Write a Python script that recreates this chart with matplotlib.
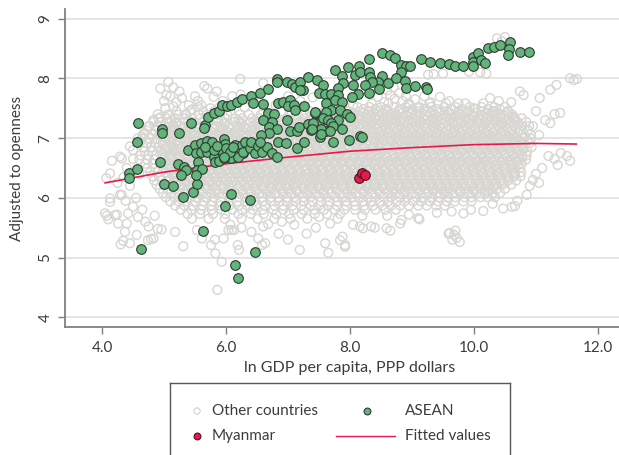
import matplotlib
matplotlib.use("Agg")
import matplotlib.pyplot as plt
from matplotlib.lines import Line2D

plt.rcParams['font.family'] = ['Lato', 'DejaVu Sans']

# ---------------- data ----------------
# Fitted values
fit_x = [4.05, 5.0, 6.0, 7.0, 8.0, 9.0, 10.0, 11.0, 11.65]
fit_y = [6.25, 6.43, 6.57, 6.68, 6.78, 6.84, 6.89, 6.91, 6.90]

# Myanmar
mmr_x = [8.15, 8.20, 8.25]
mmr_y = [6.33, 6.41, 6.38]

# ASEAN
asean_x = [4.58, 4.57, 4.43, 4.43, 4.56, 4.96, 4.96, 5.24, 5.44, 5.66, 5.64, 4.94, 5.00, 5.15, 5.31,
           5.46, 5.53, 5.22, 5.33, 5.35, 5.27, 5.38, 6.08, 5.99, 6.39, 5.63, 4.63, 6.47, 6.15, 6.19,
           5.71, 5.80, 5.88, 5.93, 6.01, 6.08, 6.17, 6.25, 6.41, 6.55, 6.67, 6.44, 6.60,
           5.50, 5.60, 5.69, 5.77, 5.51, 5.60, 5.69, 5.80, 5.82, 5.89, 5.92, 5.97, 5.99, 6.04, 6.09,
           6.15, 6.25, 6.27, 6.08, 6.20, 5.96, 5.55, 5.53, 5.61, 5.52,
           5.66, 5.80, 5.85, 6.00, 6.06, 6.12, 6.28, 6.31, 6.39, 6.41, 6.47, 6.52, 6.58, 6.66, 6.74,
           6.82, 5.96,
           6.83, 6.83, 6.98, 7.06, 7.11, 7.19, 7.24, 7.33, 7.46, 7.56, 7.50, 7.60, 7.62,
           6.84, 6.92, 7.03, 7.00, 7.09, 7.11, 6.67, 6.77, 6.60, 6.98, 6.74, 6.70, 6.82, 7.03, 7.14,
           7.17, 7.33, 7.37, 7.44, 7.44, 6.70, 6.84, 6.97, 7.14, 7.25, 6.56, 6.55, 7.50, 7.52, 7.61,
           7.19,
           8.31, 8.51, 8.65, 8.72, 8.82, 8.90, 8.97, 8.83, 9.14, 9.29, 9.45, 8.15, 7.96, 7.76, 7.87,
           8.08, 8.16, 8.30, 8.32, 8.51, 8.45, 8.35, 8.24, 8.30, 8.13, 8.05, 7.89, 7.81, 8.47, 8.62,
           8.74, 8.89, 8.90, 9.05, 9.23, 9.25,
           7.70, 7.81, 7.76, 7.87, 7.70, 8.03, 7.25, 7.44, 7.62, 7.57, 7.84, 7.95, 8.00, 7.81, 7.65,
           7.70, 7.41, 7.54, 7.73, 7.68, 7.87, 7.38, 7.54, 7.73, 7.99, 8.16, 8.19,
           9.59, 9.69, 9.82, 9.98, 9.99, 9.98, 10.07, 10.12, 10.18, 10.23, 10.32, 10.42, 10.58,
           10.57, 10.55, 10.75, 10.89]
asean_y = [7.25, 6.93, 6.41, 6.33, 6.48, 7.16, 7.08, 7.09, 7.25, 7.22, 7.17, 6.60, 6.23, 6.20, 6.02,
           6.09, 6.23, 6.57, 6.51, 6.47, 6.39, 6.80, 6.06, 5.86, 5.96, 5.44, 5.15, 5.09, 4.87, 4.66,
           7.36, 7.42, 7.46, 7.55, 7.54, 7.55, 7.61, 7.65, 7.71, 7.76, 7.82, 7.59, 7.57,
           6.88, 6.91, 6.95, 6.94, 6.75, 6.76, 6.77, 6.69, 6.60, 6.62, 6.80, 6.98, 6.90, 6.81, 6.79,
           6.88, 6.88, 6.75, 6.66, 6.69, 6.66, 6.60, 6.47, 6.48, 6.39,
           6.85, 6.80, 6.87, 6.83, 6.77, 6.85, 6.77, 6.94, 6.83, 6.94, 6.75, 6.87, 6.77, 6.85, 6.75,
           6.69, 6.69,
           7.99, 7.93, 7.94, 7.91, 7.85, 7.94, 7.81, 8.02, 7.98, 7.89, 7.75, 7.74, 7.58,
           7.58, 7.61, 7.64, 7.53, 7.55, 7.47, 7.42, 7.40, 7.30, 7.31, 7.27, 7.19, 7.16, 7.11, 7.11,
           7.19, 7.24, 7.14, 7.27, 7.42, 7.08, 6.94, 6.91, 6.83, 6.94, 7.05, 6.94, 7.26, 7.02, 7.11,
           7.81,
           8.32, 8.42, 8.39, 8.34, 8.22, 8.20, 8.21, 8.11, 8.32, 8.28, 8.26, 8.21, 8.19, 8.14, 8.04,
           8.06, 8.10, 8.10, 8.03, 8.04, 7.94, 7.93, 7.89, 7.75, 7.74, 7.89, 7.92, 7.83, 7.82, 7.92,
           8.00, 7.96, 7.83, 7.87, 7.86, 7.82,
           7.74, 7.72, 7.64, 7.61, 7.47, 7.69, 7.53, 7.43, 7.44, 7.33, 7.47, 7.40, 7.35, 7.31, 7.30,
           7.26, 7.25, 7.16, 7.20, 7.12, 7.15, 7.15, 7.07, 6.94, 6.97, 7.04, 7.02,
           8.24, 8.20, 8.20, 8.35, 8.28, 8.21, 8.43, 8.31, 8.26, 8.50, 8.53, 8.56, 8.60,
           8.49, 8.39, 8.44, 8.44]

# Other countries: scattered observations outside the dense core (x, y)
other_sparse_x = [4.05, 4.08, 4.13, 4.10, 4.24, 4.29, 4.26, 4.40, 4.42, 4.50, 4.58, 4.34, 4.30, 4.45,
                  4.56, 4.74, 4.79, 4.83, 4.75, 4.90, 4.96, 5.18, 5.31, 5.53, 5.61, 5.82, 5.76, 5.83,
                  5.93, 5.86, 5.96, 6.04, 6.09, 6.13, 6.19, 6.21, 6.07, 6.25, 6.41, 6.52, 6.60, 6.68,
                  6.58, 6.63, 4.37, 4.21, 4.16, 4.32, 4.13, 4.07, 4.32, 4.13, 4.29, 4.45, 4.50, 4.65,
                  4.67, 4.83, 5.02, 5.15, 5.29, 5.07, 4.94, 5.04, 5.15, 5.65, 5.70, 6.23, 6.24, 5.80,
                  6.60, 4.40, 4.45, 4.55, 4.60, 4.35, 4.25, 4.50, 4.38, 4.65, 4.70, 4.85, 4.58, 4.75,
                  4.90, 5.20, 5.40, 5.55, 5.95, 6.10, 6.40, 6.55, 6.80, 7.00, 7.20, 7.40, 7.10, 7.35,
                  7.60, 7.85, 8.05, 8.30, 8.45, 8.55, 8.65, 8.72, 8.85, 8.95, 9.10, 9.26, 9.35, 9.50,
                  9.92, 10.10, 10.20, 10.37, 10.50, 10.45, 9.45, 9.60, 9.75, 10.26, 10.40, 10.74,
                  10.80, 10.60, 11.06, 11.23, 11.33, 11.55, 11.61, 11.66, 11.39, 11.30, 11.23, 11.15,
                  11.00, 10.95, 11.05, 11.20, 11.30, 11.40, 11.50, 11.55, 11.35, 11.10, 11.00, 10.95,
                  10.90, 11.05, 10.85, 10.70, 10.47, 10.61, 10.66, 10.30, 9.83, 9.64, 9.61, 9.68,
                  9.72, 9.65, 9.77, 9.59, 9.70, 9.12, 9.10, 8.81, 8.83, 8.59, 8.65, 8.34, 8.40, 8.21,
                  8.16, 8.05, 7.84, 7.92, 7.92, 7.88, 7.60, 7.65, 7.68, 7.19, 7.30, 7.45, 7.10, 6.90,
                  6.85, 7.00, 9.40, 9.95, 10.15, 8.95, 8.60, 8.20, 7.80, 7.50, 10.00, 10.30, 10.55,
                  10.65, 8.60, 8.70, 8.80, 8.90, 9.05, 9.20, 9.30, 5.10, 5.20, 5.25, 5.35, 5.00, 4.95,
                  5.45, 5.50, 5.60, 5.75, 5.85, 5.90]
other_sparse_y = [5.74, 5.70, 5.93, 5.64, 5.72, 6.05, 5.57, 5.57, 5.74, 5.85, 5.68, 5.28, 5.22, 5.24,
                  5.38, 5.29, 5.31, 5.32, 5.52, 5.48, 5.47, 5.43, 5.19, 5.46, 5.32, 5.30, 5.21, 5.07,
                  4.93, 4.46, 5.32, 5.46, 5.46, 5.46, 5.21, 5.13, 5.55, 5.50, 5.43, 5.32, 5.52, 5.56,
                  5.21, 5.24, 5.43, 5.71, 6.62, 6.66, 6.41, 6.33, 6.05, 5.99, 6.69, 6.86, 6.80, 7.02,
                  7.08, 7.30, 7.50, 7.53, 7.67, 7.94, 7.83, 7.72, 7.85, 7.87, 7.83, 7.99, 7.73, 7.69,
                  7.92, 6.50, 6.20, 6.00, 6.40, 6.35, 6.25, 6.65, 5.95, 5.80, 5.60, 5.70, 7.00, 7.20,
                  7.40, 7.60, 7.55, 7.62, 7.62, 7.70, 7.65, 7.60, 7.55, 7.70, 7.62, 7.68, 7.50, 7.45,
                  7.48, 7.52, 7.55, 7.45, 7.69, 7.60, 7.72, 7.66, 7.62, 7.55, 7.50, 8.06, 8.07, 8.08,
                  8.11, 8.10, 8.08, 8.67, 8.69, 8.62, 7.69, 7.62, 7.58, 7.67, 7.62, 7.78,
                  7.72, 7.60, 7.67, 7.81, 7.89, 8.00, 7.97, 7.99, 7.42, 7.40, 7.25, 7.30,
                  7.45, 7.20, 7.05, 6.70, 6.65, 6.75, 6.70, 6.62, 6.55, 6.50, 6.40, 6.30,
                  6.20, 6.25, 6.05, 5.95, 5.82, 5.85, 5.86, 5.90, 5.74, 5.77, 5.41, 5.38,
                  5.33, 5.30, 5.26, 5.40, 5.45, 5.64, 5.66, 5.57, 5.63, 5.49, 5.45, 5.52, 5.50, 5.49,
                  5.52, 5.55, 5.29, 5.18, 5.21, 5.35, 5.24, 5.08, 5.57, 5.13, 5.40, 5.50, 5.55, 5.60,
                  5.40, 5.30, 5.75, 5.80, 5.78, 5.72, 5.70, 5.70, 5.65, 5.68, 7.50, 7.45, 7.45,
                  7.35, 7.80, 7.85, 7.75, 7.70, 7.65, 7.70, 7.60, 7.70, 7.45, 7.78, 7.40, 7.62, 7.35,
                  7.48, 7.70, 7.55, 7.50, 7.78, 7.45]

# Other countries: dense core, read row by row (row level -> x positions)
core_row_y = [7.58, 7.52, 7.45, 7.39, 7.33, 7.27, 7.20, 7.13, 7.06, 6.99, 6.92, 6.85, 6.78, 6.71,
              6.64, 6.57, 6.50, 6.43, 6.36, 6.29, 6.22, 6.15, 6.08, 6.01, 5.94, 5.87, 5.80, 5.73,
              5.65]
core_row_x = [
    [8.35, 8.62, 8.95, 9.28, 9.55, 9.86, 10.15],
    [5.55, 5.90, 6.30, 8.12, 8.31, 8.50, 8.71, 8.90, 9.12, 9.31, 9.52, 9.70, 9.93, 10.12, 10.33,
     10.50],
    [5.42, 5.63, 5.81, 6.07, 6.60, 6.89, 7.62, 7.83, 7.98, 8.16, 8.30, 8.47, 8.61, 8.79, 8.93,
     9.11, 9.25, 9.43, 9.57, 9.75, 9.91, 10.14, 10.33, 10.55],
    [5.06, 5.23, 5.36, 5.57, 5.69, 5.90, 6.02, 6.22, 6.37, 6.56, 6.72, 7.05, 7.28, 7.47, 7.66,
     7.82, 7.97, 8.13, 8.28, 8.44, 8.59, 8.75, 8.90, 9.06, 9.21, 9.37, 9.51, 9.63, 9.78, 9.97,
     10.10, 10.29, 10.43, 10.62],
    [4.91, 5.05, 5.18, 5.32, 5.45, 5.59, 5.72, 5.87, 5.98, 6.15, 6.26, 6.42, 6.54, 6.69, 6.82,
     6.98, 7.11, 7.27, 7.42, 7.56, 7.71, 7.85, 8.00, 8.13, 8.27, 8.40, 8.53, 8.68, 8.85, 9.00,
     9.18, 9.32, 9.49, 9.62, 9.78, 9.91, 10.07, 10.20, 10.36, 10.48, 10.65, 10.77],
    [4.83, 4.94, 5.08, 5.20, 5.34, 5.46, 5.61, 5.71, 5.87, 5.97, 6.13, 6.23, 6.39, 6.50, 6.64,
     6.76, 6.91, 7.02, 7.18, 7.28, 7.44, 7.55, 7.69, 7.81, 7.96, 8.07, 8.23, 8.33, 8.49, 8.60,
     8.74, 8.86, 9.01, 9.12, 9.28, 9.38, 9.54, 9.65, 9.79, 9.91, 10.06, 10.17, 10.33, 10.43,
     10.59, 10.70, 10.84],
    [4.77, 4.89, 5.01, 5.15, 5.26, 5.41, 5.52, 5.67, 5.78, 5.92, 6.04, 6.19, 6.29, 6.45, 6.56,
     6.71, 6.82, 6.97, 7.08, 7.23, 7.35, 7.49, 7.60, 7.76, 7.87, 8.02, 8.13, 8.28, 8.40, 8.55,
     8.66, 8.81, 8.92, 9.07, 9.19, 9.34, 9.45, 9.60, 9.71, 9.86, 9.97, 10.13, 10.24, 10.39,
     10.50, 10.65, 10.78, 10.89],
    [4.72, 4.85, 4.96, 5.11, 5.22, 5.37, 5.48, 5.63, 5.74, 5.89, 6.00, 6.16, 6.26, 6.41, 6.53,
     6.67, 6.79, 6.93, 7.05, 7.19, 7.31, 7.46, 7.57, 7.72, 7.83, 7.98, 8.10, 8.24, 8.36, 8.51,
     8.62, 8.77, 8.88, 9.03, 9.15, 9.29, 9.41, 9.56, 9.67, 9.82, 9.94, 10.08, 10.20, 10.35,
     10.46, 10.61, 10.73, 10.87],
    [4.67, 4.81, 4.92, 5.07, 5.17, 5.32, 5.43, 5.58, 5.69, 5.84, 5.94, 6.10, 6.20, 6.35, 6.46,
     6.61, 6.72, 6.87, 6.98, 7.13, 7.24, 7.39, 7.50, 7.65, 7.76, 7.91, 8.02, 8.17, 8.28, 8.43,
     8.54, 8.69, 8.80, 8.95, 9.06, 9.21, 9.32, 9.47, 9.58, 9.73, 9.84, 9.99, 10.10, 10.25,
     10.36, 10.51, 10.62, 10.77, 10.91],
    [4.64, 4.77, 4.89, 5.03, 5.14, 5.28, 5.40, 5.54, 5.66, 5.79, 5.91, 6.05, 6.17, 6.31, 6.43,
     6.56, 6.68, 6.82, 6.94, 7.08, 7.20, 7.33, 7.45, 7.59, 7.71, 7.85, 7.97, 8.10, 8.22, 8.36,
     8.48, 8.62, 8.74, 8.87, 8.99, 9.13, 9.25, 9.39, 9.51, 9.64, 9.76, 9.90, 10.02, 10.16,
     10.28, 10.41, 10.53, 10.67, 10.80, 10.92],
    [4.61, 4.72, 4.86, 4.98, 5.11, 5.24, 5.35, 5.49, 5.61, 5.74, 5.87, 5.98, 6.12, 6.24, 6.37,
     6.50, 6.61, 6.75, 6.87, 7.00, 7.13, 7.24, 7.38, 7.50, 7.63, 7.76, 7.87, 8.01, 8.13, 8.26,
     8.39, 8.50, 8.64, 8.76, 8.89, 9.02, 9.13, 9.27, 9.39, 9.52, 9.65, 9.76, 9.90, 10.02,
     10.15, 10.28, 10.39, 10.53, 10.65, 10.78, 10.90],
    [4.66, 4.79, 4.91, 5.05, 5.16, 5.30, 5.42, 5.56, 5.67, 5.81, 5.93, 6.07, 6.18, 6.32, 6.44,
     6.58, 6.69, 6.83, 6.95, 7.09, 7.20, 7.34, 7.46, 7.60, 7.71, 7.85, 7.97, 8.11, 8.22, 8.36,
     8.48, 8.62, 8.73, 8.87, 8.99, 9.13, 9.24, 9.38, 9.50, 9.64, 9.75, 9.89, 10.01, 10.15,
     10.26, 10.40, 10.52, 10.66, 10.79, 10.93],
    [4.69, 4.81, 4.95, 5.08, 5.20, 5.33, 5.47, 5.59, 5.72, 5.85, 5.97, 6.11, 6.23, 6.36, 6.49,
     6.61, 6.75, 6.87, 7.00, 7.13, 7.25, 7.39, 7.51, 7.64, 7.77, 7.89, 8.03, 8.15, 8.28, 8.41,
     8.53, 8.67, 8.79, 8.92, 9.05, 9.17, 9.31, 9.43, 9.56, 9.69, 9.81, 9.95, 10.07, 10.20,
     10.33, 10.45, 10.59, 10.71, 10.86],
    [4.62, 4.75, 4.87, 5.01, 5.13, 5.26, 5.39, 5.51, 5.65, 5.77, 5.90, 6.03, 6.15, 6.29, 6.41,
     6.54, 6.67, 6.79, 6.93, 7.05, 7.18, 7.31, 7.43, 7.57, 7.69, 7.82, 7.95, 8.07, 8.21, 8.33,
     8.46, 8.59, 8.71, 8.85, 8.97, 9.10, 9.23, 9.35, 9.49, 9.61, 9.74, 9.87, 9.99, 10.13,
     10.25, 10.38, 10.51, 10.63, 10.77, 10.85],
    [4.60, 4.73, 4.84, 4.98, 5.10, 5.23, 5.36, 5.48, 5.62, 5.74, 5.86, 6.00, 6.12, 6.25, 6.38,
     6.50, 6.64, 6.76, 6.88, 7.02, 7.14, 7.27, 7.40, 7.52, 7.66, 7.78, 7.90, 8.04, 8.16, 8.29,
     8.42, 8.54, 8.68, 8.80, 8.92, 9.06, 9.18, 9.31, 9.44, 9.56, 9.70, 9.82, 9.94, 10.08,
     10.20, 10.33, 10.46, 10.58, 10.72, 10.84],
    [4.70, 4.82, 4.94, 5.07, 5.19, 5.32, 5.45, 5.57, 5.70, 5.83, 5.95, 6.08, 6.21, 6.33, 6.46,
     6.59, 6.71, 6.84, 6.97, 7.09, 7.22, 7.35, 7.47, 7.60, 7.73, 7.85, 7.98, 8.11, 8.23, 8.36,
     8.49, 8.61, 8.74, 8.87, 8.99, 9.12, 9.25, 9.37, 9.50, 9.63, 9.75, 9.88, 10.01, 10.13,
     10.26, 10.39, 10.51, 10.64, 10.77],
    [4.73, 4.86, 4.99, 5.11, 5.25, 5.37, 5.50, 5.63, 5.76, 5.88, 6.02, 6.14, 6.27, 6.40, 6.53,
     6.65, 6.79, 6.91, 7.04, 7.17, 7.30, 7.42, 7.56, 7.68, 7.81, 7.94, 8.07, 8.19, 8.33, 8.45,
     8.58, 8.71, 8.84, 8.96, 9.10, 9.22, 9.35, 9.48, 9.61, 9.73, 9.87, 9.99, 10.12, 10.25,
     10.38, 10.50, 10.63, 10.74],
    [4.78, 4.90, 5.03, 5.16, 5.28, 5.42, 5.54, 5.67, 5.80, 5.92, 6.06, 6.18, 6.31, 6.44, 6.56,
     6.70, 6.82, 6.95, 7.08, 7.20, 7.34, 7.46, 7.59, 7.72, 7.84, 7.98, 8.10, 8.23, 8.36, 8.48,
     8.62, 8.74, 8.87, 9.00, 9.12, 9.26, 9.38, 9.51, 9.64, 9.76, 9.90, 10.02, 10.15, 10.28,
     10.40, 10.54, 10.66, 10.76],
    [4.81, 4.92, 5.07, 5.18, 5.33, 5.44, 5.59, 5.70, 5.85, 5.96, 6.11, 6.22, 6.37, 6.48, 6.63,
     6.74, 6.89, 7.00, 7.15, 7.26, 7.41, 7.52, 7.67, 7.78, 7.93, 8.04, 8.19, 8.30, 8.45, 8.56,
     8.71, 8.82, 8.97, 9.08, 9.23, 9.34, 9.49, 9.60, 9.75, 9.86, 10.01, 10.12, 10.27, 10.38,
     10.53, 10.64, 10.75],
    [4.84, 4.97, 5.09, 5.23, 5.35, 5.49, 5.61, 5.75, 5.87, 6.01, 6.13, 6.27, 6.39, 6.53, 6.65,
     6.79, 6.91, 7.05, 7.17, 7.31, 7.43, 7.57, 7.69, 7.83, 7.95, 8.09, 8.21, 8.35, 8.47, 8.61,
     8.73, 8.87, 8.99, 9.13, 9.25, 9.39, 9.51, 9.65, 9.77, 9.91, 10.03, 10.17, 10.29, 10.43,
     10.55, 10.68],
    [4.88, 5.01, 5.14, 5.26, 5.40, 5.52, 5.66, 5.78, 5.92, 6.04, 6.18, 6.30, 6.44, 6.56, 6.70,
     6.82, 6.96, 7.08, 7.22, 7.34, 7.48, 7.60, 7.74, 7.86, 8.00, 8.12, 8.26, 8.38, 8.52, 8.64,
     8.78, 8.90, 9.04, 9.16, 9.30, 9.42, 9.56, 9.68, 9.82, 9.94, 10.08, 10.20, 10.34, 10.46,
     10.60],
    [4.93, 5.06, 5.17, 5.32, 5.43, 5.58, 5.69, 5.84, 5.95, 6.10, 6.21, 6.36, 6.47, 6.62, 6.73,
     6.88, 6.99, 7.14, 7.25, 7.40, 7.51, 7.66, 7.77, 7.92, 8.03, 8.18, 8.29, 8.44, 8.55, 8.70,
     8.81, 8.96, 9.07, 9.22, 9.33, 9.48, 9.59, 9.74, 9.85, 10.00, 10.11, 10.26, 10.37, 10.50],
    [4.98, 5.11, 5.24, 5.36, 5.50, 5.62, 5.76, 5.88, 6.02, 6.14, 6.28, 6.40, 6.54, 6.66, 6.80,
     6.92, 7.06, 7.18, 7.32, 7.44, 7.58, 7.70, 7.84, 7.96, 8.10, 8.22, 8.36, 8.48, 8.62, 8.74,
     8.88, 9.00, 9.14, 9.26, 9.40, 9.52, 9.66, 9.78, 9.92, 10.04, 10.18, 10.30, 10.42],
    [5.03, 5.17, 5.28, 5.43, 5.54, 5.69, 5.80, 5.95, 6.06, 6.21, 6.32, 6.47, 6.58, 6.73, 6.84,
     6.99, 7.10, 7.25, 7.36, 7.51, 7.62, 7.77, 7.88, 8.03, 8.14, 8.29, 8.40, 8.55, 8.66, 8.81,
     8.92, 9.07, 9.18, 9.33, 9.44, 9.59, 9.70, 9.85, 9.96, 10.11, 10.22, 10.34],
    [5.10, 5.24, 5.37, 5.51, 5.64, 5.78, 5.91, 6.05, 6.18, 6.32, 6.45, 6.59, 6.72, 6.86, 6.99,
     7.13, 7.26, 7.40, 7.53, 7.67, 7.80, 7.94, 8.07, 8.21, 8.34, 8.48, 8.61, 8.75, 8.88, 9.02,
     9.15, 9.29, 9.42, 9.56, 9.69, 9.83, 9.96],
    [5.18, 5.33, 5.47, 5.62, 5.76, 5.91, 6.05, 6.20, 6.34, 6.49, 6.63, 6.78, 6.92, 7.07, 7.21,
     7.36, 7.50, 7.65, 7.79, 7.94, 8.08, 8.23, 8.37, 8.52, 8.66, 8.81, 8.95, 9.10, 9.24, 9.39,
     9.53],
    [5.27, 5.44, 5.60, 5.77, 5.93, 6.10, 6.26, 6.43, 6.59, 6.76, 6.92, 7.09, 7.25, 7.42, 7.58,
     7.75, 7.91, 8.08, 8.24, 8.41, 8.57, 8.74],
    [5.38, 5.58, 5.79, 5.99, 6.20, 6.40, 6.61, 6.81, 7.02, 7.22, 7.43, 7.63, 7.84],
    [5.45, 5.72, 5.98, 6.25, 6.51, 6.78, 7.04, 7.31],
]

# Other countries: densest band, read at the in-between levels
mid_row_y = [7.485, 7.42, 7.36, 7.30, 7.235, 7.165, 7.095, 7.025, 6.955, 6.885, 6.815, 6.745,
             6.675, 6.605, 6.535, 6.465, 6.395, 6.325, 6.255, 6.185, 6.115]
mid_row_x = [
    [8.22, 8.41, 8.58, 8.80, 9.01, 9.20, 9.41, 9.62, 9.81, 10.02, 10.23, 10.42],
    [7.72, 7.90, 8.06, 8.22, 8.38, 8.53, 8.68, 8.84, 8.99, 9.15, 9.30, 9.45, 9.60, 9.74, 9.88,
     10.04, 10.20, 10.37, 10.52],
    [7.36, 7.51, 7.64, 7.78, 7.92, 8.06, 8.20, 8.34, 8.47, 8.61, 8.76, 8.92, 9.08, 9.25, 9.40,
     9.55, 9.70, 9.85, 9.99, 10.14, 10.28, 10.42, 10.57],
    [5.12, 5.39, 5.65, 5.93, 6.20, 6.47, 6.75, 7.03, 7.22, 7.36, 7.50, 7.63, 7.76, 7.89, 8.02,
     8.15, 8.28, 8.42, 8.55, 8.68, 8.80, 8.94, 9.07, 9.21, 9.33, 9.46, 9.60, 9.73, 9.85, 9.98,
     10.12, 10.25, 10.38, 10.52, 10.66],
    [5.20, 5.46, 5.72, 5.98, 6.25, 6.50, 6.77, 6.90, 7.03, 7.16, 7.29, 7.42, 7.55, 7.69, 7.81,
     7.94, 8.08, 8.21, 8.34, 8.47, 8.60, 8.73, 8.87, 9.00, 9.13, 9.26, 9.39, 9.52, 9.66, 9.79,
     9.92, 10.05, 10.18, 10.31, 10.45, 10.58, 10.72],
    [5.05, 5.17, 5.30, 5.43, 5.56, 5.69, 5.82, 5.95, 6.08, 6.22, 6.34, 6.47, 6.60, 6.73, 6.86,
     6.99, 7.12, 7.25, 7.38, 7.52, 7.64, 7.77, 7.91, 8.04, 8.17, 8.30, 8.43, 8.57, 8.70, 8.83,
     8.96, 9.09, 9.22, 9.35, 9.49, 9.62, 9.75, 9.88, 10.01, 10.14, 10.28, 10.41, 10.54, 10.68],
    [5.00, 5.13, 5.25, 5.38, 5.51, 5.64, 5.77, 5.90, 6.03, 6.16, 6.29, 6.42, 6.55, 6.68, 6.81,
     6.93, 7.07, 7.19, 7.33, 7.45, 7.58, 7.71, 7.84, 7.97, 8.10, 8.23, 8.36, 8.49, 8.62, 8.75,
     8.88, 9.01, 9.14, 9.27, 9.40, 9.53, 9.66, 9.79, 9.92, 10.05, 10.18, 10.31, 10.44, 10.57,
     10.70],
    [4.98, 5.10, 5.24, 5.37, 5.49, 5.62, 5.76, 5.88, 6.01, 6.15, 6.27, 6.40, 6.54, 6.66, 6.79,
     6.93, 7.05, 7.18, 7.32, 7.44, 7.57, 7.71, 7.83, 7.96, 8.10, 8.22, 8.35, 8.49, 8.61, 8.74,
     8.88, 9.00, 9.13, 9.27, 9.39, 9.52, 9.66, 9.78, 9.91, 10.05, 10.17, 10.30, 10.44, 10.56,
     10.69, 10.83],
    [4.95, 5.08, 5.21, 5.33, 5.47, 5.59, 5.72, 5.85, 5.98, 6.11, 6.23, 6.37, 6.49, 6.62, 6.75,
     6.88, 7.01, 7.13, 7.27, 7.39, 7.52, 7.65, 7.78, 7.91, 8.03, 8.17, 8.29, 8.42, 8.55, 8.68,
     8.81, 8.93, 9.07, 9.19, 9.32, 9.45, 9.58, 9.71, 9.83, 9.97, 10.09, 10.22, 10.35, 10.48,
     10.61, 10.74, 10.86],
    [4.99, 5.12, 5.24, 5.38, 5.50, 5.63, 5.76, 5.89, 6.02, 6.14, 6.28, 6.40, 6.53, 6.66, 6.79,
     6.92, 7.04, 7.18, 7.30, 7.43, 7.56, 7.69, 7.82, 7.94, 8.08, 8.20, 8.33, 8.46, 8.59, 8.72,
     8.84, 8.98, 9.10, 9.23, 9.36, 9.49, 9.62, 9.74, 9.88, 10.00, 10.13, 10.26, 10.39, 10.52,
     10.64, 10.78],
    [5.02, 5.15, 5.27, 5.40, 5.53, 5.66, 5.79, 5.91, 6.05, 6.17, 6.30, 6.43, 6.56, 6.69, 6.81,
     6.95, 7.07, 7.20, 7.33, 7.46, 7.59, 7.71, 7.85, 7.97, 8.10, 8.23, 8.36, 8.49, 8.61, 8.75,
     8.87, 9.00, 9.13, 9.26, 9.39, 9.51, 9.65, 9.77, 9.90, 10.03, 10.16, 10.29, 10.41, 10.55,
     10.67, 10.80],
    [4.97, 5.09, 5.22, 5.35, 5.48, 5.61, 5.73, 5.87, 5.99, 6.12, 6.25, 6.38, 6.51, 6.63, 6.77,
     6.89, 7.02, 7.15, 7.28, 7.41, 7.53, 7.67, 7.79, 7.92, 8.05, 8.18, 8.31, 8.43, 8.57, 8.69,
     8.82, 8.95, 9.08, 9.21, 9.33, 9.47, 9.59, 9.72, 9.85, 9.98, 10.11, 10.23, 10.37, 10.49,
     10.62, 10.75],
    [5.00, 5.13, 5.26, 5.38, 5.52, 5.64, 5.77, 5.90, 6.03, 6.16, 6.28, 6.42, 6.54, 6.67, 6.80,
     6.93, 7.06, 7.18, 7.32, 7.44, 7.57, 7.70, 7.83, 7.96, 8.08, 8.22, 8.34, 8.47, 8.60, 8.73,
     8.86, 8.98, 9.12, 9.24, 9.37, 9.50, 9.63, 9.76, 9.88, 10.02, 10.14, 10.27, 10.40, 10.53,
     10.66, 10.78],
    [5.04, 5.16, 5.29, 5.42, 5.55, 5.68, 5.80, 5.94, 6.06, 6.19, 6.32, 6.45, 6.58, 6.70, 6.84,
     6.96, 7.09, 7.22, 7.35, 7.48, 7.60, 7.74, 7.86, 7.99, 8.12, 8.25, 8.38, 8.50, 8.64, 8.76,
     8.89, 9.02, 9.15, 9.28, 9.40, 9.54, 9.66, 9.79, 9.92, 10.05, 10.18, 10.30, 10.44, 10.56,
     10.69],
    [5.06, 5.19, 5.31, 5.45, 5.57, 5.70, 5.83, 5.96, 6.09, 6.21, 6.35, 6.47, 6.60, 6.73, 6.86,
     6.99, 7.11, 7.25, 7.37, 7.50, 7.63, 7.76, 7.89, 8.01, 8.15, 8.27, 8.40, 8.53, 8.66, 8.79,
     8.91, 9.05, 9.17, 9.30, 9.43, 9.56, 9.69, 9.81, 9.95, 10.07, 10.20, 10.33, 10.46, 10.59,
     10.70],
    [5.09, 5.22, 5.35, 5.48, 5.60, 5.74, 5.86, 5.99, 6.12, 6.25, 6.38, 6.50, 6.64, 6.76, 6.89,
     7.02, 7.15, 7.28, 7.40, 7.54, 7.66, 7.79, 7.92, 8.05, 8.18, 8.30, 8.44, 8.56, 8.69, 8.82,
     8.95, 9.08, 9.20, 9.34, 9.46, 9.59, 9.72, 9.85, 9.98, 10.10, 10.24, 10.36, 10.49, 10.62],
    [5.13, 5.26, 5.38, 5.51, 5.64, 5.77, 5.90, 6.02, 6.16, 6.28, 6.41, 6.54, 6.67, 6.80, 6.92,
     7.06, 7.18, 7.31, 7.44, 7.57, 7.70, 7.82, 7.96, 8.08, 8.21, 8.34, 8.47, 8.60, 8.72, 8.86,
     8.98, 9.11, 9.24, 9.37, 9.50, 9.62, 9.76, 9.88, 10.01, 10.14, 10.27, 10.40, 10.52, 10.66],
    [5.16, 5.29, 5.42, 5.55, 5.67, 5.81, 5.93, 6.06, 6.19, 6.32, 6.45, 6.57, 6.71, 6.83, 6.96,
     7.09, 7.22, 7.35, 7.47, 7.61, 7.73, 7.86, 7.99, 8.12, 8.25, 8.37, 8.51, 8.63, 8.76, 8.89,
     9.02, 9.15, 9.27, 9.41, 9.53, 9.66, 9.79, 9.92, 10.05, 10.17, 10.31, 10.43, 10.56],
    [5.21, 5.33, 5.46, 5.59, 5.72, 5.85, 5.97, 6.11, 6.23, 6.36, 6.49, 6.62, 6.75, 6.87, 7.01,
     7.13, 7.26, 7.39, 7.52, 7.65, 7.77, 7.91, 8.03, 8.16, 8.29, 8.42, 8.55, 8.67, 8.81, 8.93,
     9.06, 9.19, 9.32, 9.45, 9.57, 9.71, 9.83, 9.96, 10.09, 10.22, 10.35, 10.47],
    [5.30, 5.43, 5.56, 5.69, 5.81, 5.95, 6.07, 6.20, 6.33, 6.46, 6.59, 6.71, 6.85, 6.97, 7.10,
     7.23, 7.36, 7.49, 7.61, 7.75, 7.87, 8.00, 8.13, 8.26, 8.39, 8.51, 8.65, 8.77, 8.90, 9.03,
     9.16, 9.29, 9.41, 9.55, 9.67, 9.80, 9.93, 10.06, 10.19, 10.31],
    [5.38, 5.60, 5.82, 6.04, 6.26, 6.48, 6.70, 6.92, 7.14, 7.36, 7.58, 7.80, 8.02, 8.24, 8.46,
     8.68, 8.90, 9.12, 9.34, 9.56, 9.78, 10.00, 10.22],
]

x_ticks = [4.0, 6.0, 8.0, 10.0, 12.0]
x_tick_labels = ["4.0", "6.0", "8.0", "10.0", "12.0"]
y_ticks = [4, 5, 6, 7, 8, 9]
y_tick_labels = ["4", "5", "6", "7", "8", "9"]
legend_labels = ["Other countries", "ASEAN", "Myanmar", "Fitted values"]

# ---------------- styling ----------------
GRAY = "#d7d6d1"
GREEN = "#62b47a"
GREEN_EDGE = "#2e3a33"
RED = "#e8194a"
TEXT = "#3c3c3c"
SPINE = "#808080"

W, H = 619, 455
fig = plt.figure(figsize=(W / 100, H / 100), dpi=100)
ax = fig.add_axes([65 / W, 1 - 327 / H, (619 - 65) / W, (327 - 9) / H])

other_x = list(other_sparse_x)
other_y = list(other_sparse_y)
for yy, xs in list(zip(core_row_y, core_row_x)) + list(zip(mid_row_y, mid_row_x)):
    other_x.extend(xs)
    other_y.extend([yy] * len(xs))

ax.scatter(other_x, other_y, s=40, facecolors="none", edgecolors=GRAY, linewidths=1.0, zorder=2)
ax.plot(fit_x, fit_y, color=RED, lw=1.2, zorder=3)
ax.scatter(asean_x, asean_y, s=48, facecolors=GREEN, edgecolors=GREEN_EDGE, linewidths=0.8, zorder=4)
ax.scatter(mmr_x, mmr_y, s=48, facecolors=RED, edgecolors="#3a1a22", linewidths=0.8, zorder=5)

ax.set_xlim(3.403, 12.339)
ax.set_ylim(3.838, 9.16)
ax.set_xticks(x_ticks)
ax.set_xticklabels(x_tick_labels)
ax.set_yticks(y_ticks)
ax.set_yticklabels(y_tick_labels, rotation=90, va="center")
ax.tick_params(axis="both", colors=SPINE, labelcolor=TEXT, labelsize=11, length=5, width=1.0)
ax.tick_params(axis="x", pad=5)
ax.tick_params(axis="y", pad=4)
ax.grid(axis="y", color="#e4e3df", lw=1.3, zorder=0)
ax.set_axisbelow(True)
for s in ["top", "right"]:
    ax.spines[s].set_visible(False)
for s in ["left", "bottom"]:
    ax.spines[s].set_color(SPINE)
    ax.spines[s].set_linewidth(1.3)

fig.text(350 / W, 1 - 368 / H, "ln GDP per capita, PPP dollars", ha="center", va="center",
         fontsize=11.5, color=TEXT)
fig.text(17 / W, 1 - 168 / H, "Adjusted to openness", ha="center", va="center",
         rotation=90, fontsize=11, color=TEXT)

# legend box (manual layout in pixel coords)
lg = fig.add_axes([170 / W, -10 / H, (510 - 170) / W, (465 - 383) / H])
lg.set_xlim(170, 510)
lg.set_ylim(465, 383)
lg.set_xticks([])
lg.set_yticks([])
for s in lg.spines.values():
    s.set_color("#555555")
    s.set_linewidth(1.0)
lg.scatter([197], [411], s=20, facecolors="none", edgecolors=GRAY, linewidths=0.9)
lg.scatter([367], [411], s=24, facecolors=GREEN, edgecolors=GREEN_EDGE, linewidths=0.8)
lg.scatter([197], [436], s=24, facecolors=RED, edgecolors="#3a1a22", linewidths=0.8)
lg.add_line(Line2D([336, 395], [436, 436], color=RED, lw=1.0))
lg.text(212, 411, legend_labels[0], va="center", ha="left", fontsize=11, color=TEXT)
lg.text(405, 411, legend_labels[1], va="center", ha="left", fontsize=11, color=TEXT)
lg.text(212, 436, legend_labels[2], va="center", ha="left", fontsize=11, color=TEXT)
lg.text(405, 436, legend_labels[3], va="center", ha="left", fontsize=11, color=TEXT)

fig.savefig("out.png", dpi=100)
